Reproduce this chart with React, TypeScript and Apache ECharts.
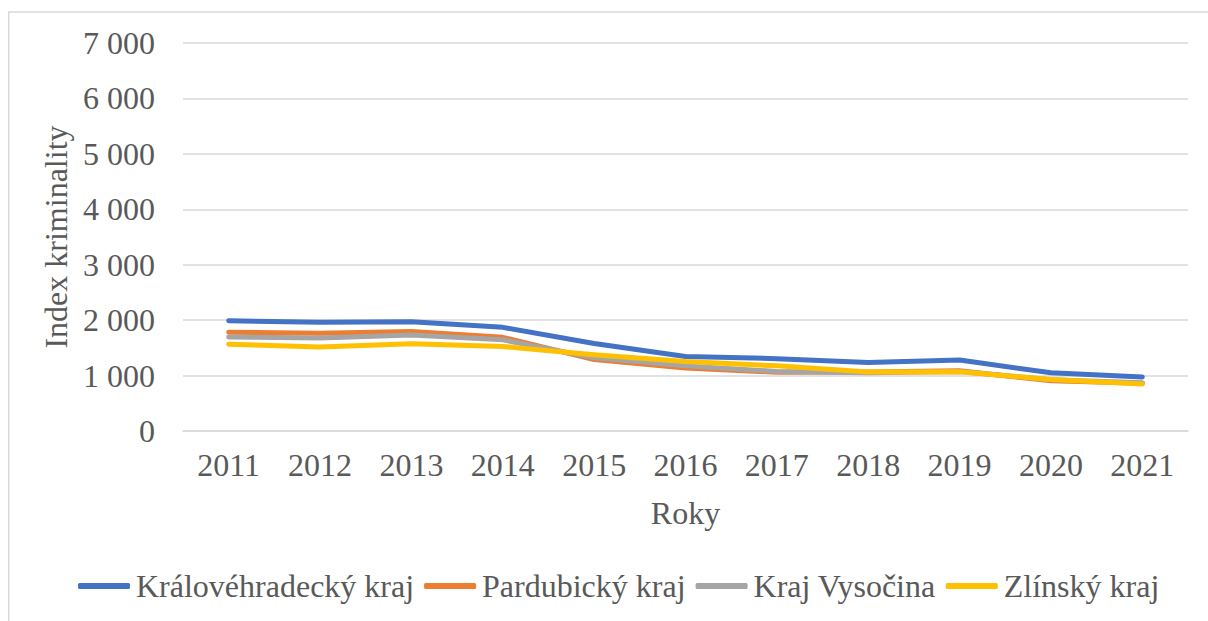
import React, { useEffect, useRef } from "react";
import * as echarts from "echarts";

const years = ["2011", "2012", "2013", "2014", "2015", "2016", "2017", "2018", "2019", "2020", "2021"];
const seriesNames = ["Královéhradecký kraj", "Pardubický kraj", "Kraj Vysočina", "Zlínský kraj"];
const kralovehradecky = [1990, 1960, 1970, 1870, 1580, 1345, 1305, 1235, 1280, 1050, 975];
const pardubicky = [1780, 1765, 1795, 1690, 1290, 1135, 1060, 1065, 1085, 905, 860];
const vysocina = [1695, 1680, 1730, 1645, 1320, 1175, 1075, 1050, 1075, 925, 870];
const zlinsky = [1565, 1515, 1575, 1525, 1375, 1255, 1175, 1065, 1070, 930, 850];
const colors = ["#4472C4", "#ED7D31", "#A5A5A5", "#FFC000"];

const FONT = "'Liberation Serif', 'Times New Roman', serif";
const TXT = "#595959";
const FS = 32;

export default function App() {
  const ref = useRef<HTMLDivElement>(null);
  useEffect(() => {
    document.body.style.margin = "0";
    document.body.style.overflow = "hidden";
    if (!ref.current) return;
    const chart = echarts.init(ref.current, null, { renderer: "svg" });
    const data = [kralovehradecky, pardubicky, vysocina, zlinsky];
    chart.setOption({
      animation: false,
      color: colors,
      textStyle: { fontFamily: FONT, color: TXT },
      graphic: [
        {
          type: "rect",
          shape: { x: 8.75, y: 12, width: 1230, height: 640 },
          style: { fill: "none", stroke: "#d9d9d9", lineWidth: 1.5 },
          silent: true,
        },
      ],
      grid: { left: 183, right: 20, top: 43, bottom: 190, containLabel: false },
      legend: {
        bottom: 14,
        left: 73,
        icon: "roundRect",
        itemWidth: 52,
        itemHeight: 6,
        itemGap: 10,
        textStyle: { fontFamily: FONT, fontSize: FS, color: TXT, padding: [0, 0, 0, 1] },
        data: seriesNames,
      },
      xAxis: {
        type: "category",
        data: years,
        boundaryGap: true,
        axisLine: { show: true, lineStyle: { color: "#d9d9d9", width: 1.5 } },
        axisTick: { show: false },
        axisLabel: { fontFamily: FONT, fontSize: FS, color: TXT, margin: 18 },
        name: "Roky",
        nameLocation: "middle",
        nameGap: 66,
        nameTextStyle: { fontFamily: FONT, fontSize: FS, color: TXT },
      },
      yAxis: {
        type: "value",
        min: 0,
        max: 7000,
        interval: 1000,
        axisLine: { show: false },
        axisTick: { show: false },
        splitLine: { lineStyle: { color: "#d9d9d9", width: 1.5 } },
        axisLabel: {
          fontFamily: FONT,
          fontSize: FS,
          color: TXT,
          margin: 28,
          formatter: (v: number) => String(v).replace(/\B(?=(\d{3})+(?!\d))/g, " "),
        },
        name: "Index kriminality",
        nameLocation: "middle",
        nameGap: 110,
        nameTextStyle: { fontFamily: FONT, fontSize: FS, color: TXT },
      },
      series: seriesNames.map((n, i) => ({
        name: n,
        type: "line",
        data: data[i],
        symbol: "none",
        showSymbol: false,
        lineStyle: { width: 5, color: colors[i], cap: "round", join: "round" },
        itemStyle: { color: colors[i] },
      })),
    });
    return () => chart.dispose();
  }, []);
  return <div ref={ref} style={{ width: 1208, height: 621 }} />;
}
